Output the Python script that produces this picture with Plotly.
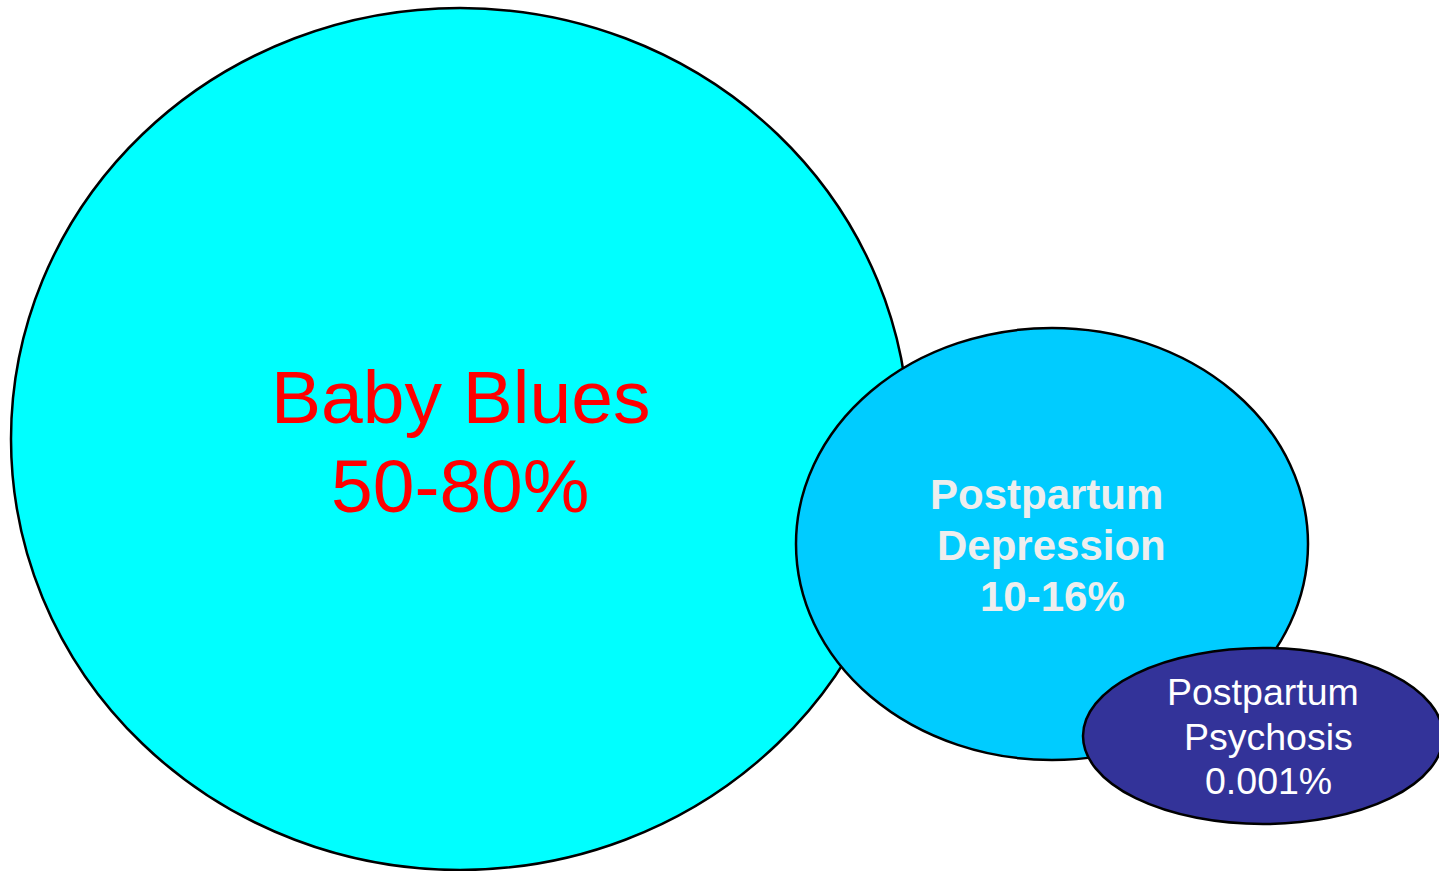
import plotly.graph_objects as go

# Categories and prevalence values
categories = ["Baby Blues", "Postpartum Depression", "Postpartum Psychosis"]
prevalence = ["50-80%", "10-16%", "0.001%"]
label_lines = [["Baby Blues", "50-80%"],
               ["Postpartum", "Depression", "10-16%"],
               ["Postpartum", "Psychosis", "0.001%"]]

# Geometry (pixel space of the canvas)
centers_x = [460, 1052, 1263]
centers_y = [439, 544, 736]
radii_x = [449, 256, 180]
radii_y = [431, 216, 88]
fills = ["#00FFFF", "#00CCFF", "#333399"]
text_colors = ["#FF0000", "#EEEEEE", "#FFFFFF"]
text_sizes = [75, 42, 37.5]
text_bold = [False, True, False]
line_y = [[397, 486], [494, 545, 596], [692, 737, 781]]
line_x = [[460, 460], [1046, 1051, 1052], [1263, 1268, 1268]]

fig = go.Figure()
shapes = []
for i in range(len(categories)):
    shapes.append(dict(type="circle", xref="x", yref="y",
                       x0=centers_x[i] - radii_x[i], x1=centers_x[i] + radii_x[i],
                       y0=centers_y[i] - radii_y[i], y1=centers_y[i] + radii_y[i],
                       fillcolor=fills[i], line=dict(color="black", width=2.5),
                       layer="below"))

annotations = []
for i in range(len(categories)):
    for j, txt in enumerate(label_lines[i]):
        t = f"<b>{txt}</b>" if text_bold[i] else txt
        annotations.append(dict(x=line_x[i][j], y=line_y[i][j], xref="x", yref="y",
                                text=t, showarrow=False, xanchor="center", yanchor="middle",
                                font=dict(family="Liberation Sans, Arial, sans-serif",
                                          size=text_sizes[i], color=text_colors[i])))

fig.add_trace(go.Scatter(x=[0, 1439], y=[0, 871], mode="markers",
                         marker=dict(opacity=0), hoverinfo="skip", showlegend=False))
fig.update_layout(width=1439, height=871, margin=dict(l=0, r=0, t=0, b=0),
                  paper_bgcolor="white", plot_bgcolor="white",
                  xaxis=dict(range=[0, 1439], visible=False, fixedrange=True),
                  yaxis=dict(range=[871, 0], visible=False, fixedrange=True),
                  shapes=shapes, annotations=annotations, showlegend=False)
fig.write_html("out.html")
